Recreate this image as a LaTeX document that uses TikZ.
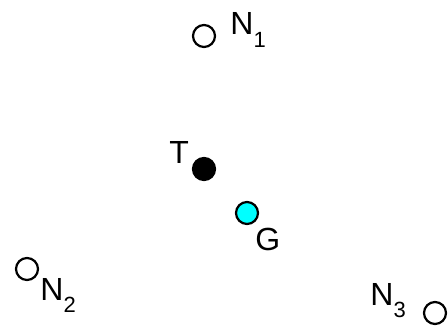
\documentclass[tikz,border=0pt]{standalone}
\usepackage{fontspec}
\setmainfont{Liberation Sans}
\usepackage{tikz}
\definecolor{gfill}{HTML}{00FFFF}
\newcommand{\lowidx}[1]{\raisebox{-6.2pt}{\fontsize{11}{13}\selectfont #1}}
\tikzset{
  site/.style={circle, draw=black, line width=1.1pt, minimum size=11pt, inner sep=0pt, fill=white},
  hollow/.style={site},
  solid/.style={site, fill=black},
  goal/.style={site, fill=gfill},
  tag/.style={inner sep=0pt, anchor=base west, font=\fontsize{16}{19}\selectfont}
}
\begin{document}
\begin{tikzpicture}[x=0.5pt, y=-0.5pt]
  \useasboundingbox (0,0) rectangle (448,326);

  % points
  \node[hollow] (n1) at (204,36) {};
  \node[solid] (t) at (204,169) {};
  \node[goal] (g) at (247,213) {};
  \node[hollow] (n2) at (27,269) {};
  \node[hollow] (n3) at (435,313) {};

  % labels
  \node[tag] (n1lab) at (230,35) {N\lowidx{1}};
  \node[tag] (tlab) at (169,163) {T};
  \node[tag] (glab) at (255,250) {G};
  \node[tag] (n2lab) at (40,300) {N\lowidx{2}};
  \node[tag] (n3lab) at (370,305) {N\lowidx{3}};
\end{tikzpicture}
\end{document}
